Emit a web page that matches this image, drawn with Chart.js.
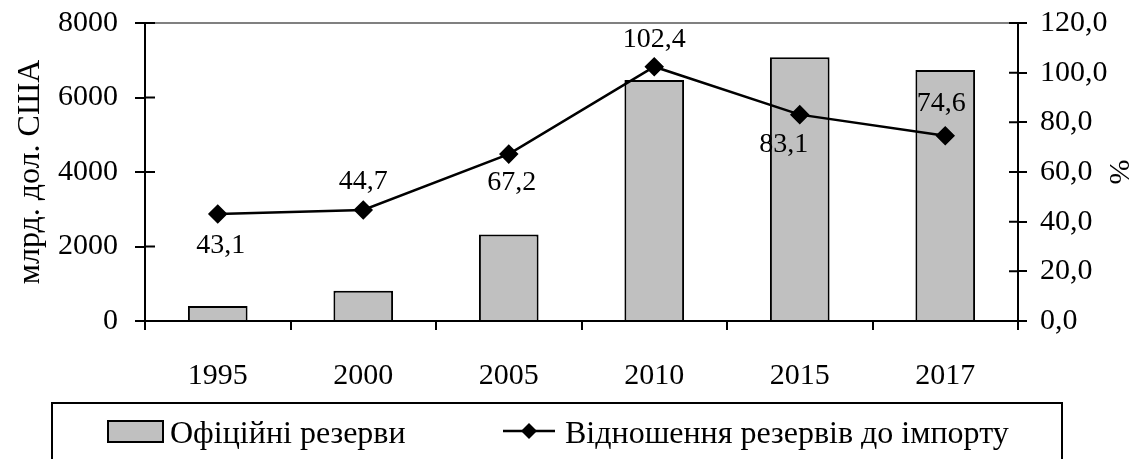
<!DOCTYPE html>
<html>
<head>
<meta charset="utf-8">
<script src="https://cdn.jsdelivr.net/npm/chart.js@4.4.0/dist/chart.umd.min.js"></script>
<style>
  html, body { margin: 0; padding: 0; background: #fff; }
  #wrap { width: 1141px; height: 459px; position: relative; }
</style>
</head>
<body>
<div id="wrap"><canvas id="grafico"></canvas></div>
<script>
const roky = ['1995', '2000', '2005', '2010', '2015', '2017'];
const rezervy = [400, 810, 2320, 6470, 7080, 6740];
const vidnoshennya = [43.1, 44.7, 67.2, 102.4, 83.1, 74.6];
const tickyLivi = [0, 2000, 4000, 6000, 8000];
const tickyPravi = [0, 20, 40, 60, 80, 100, 120];

// зсув підписів відносно точок (стиль, не дані)
const zsuvPidpysiv = [
  { dx: 3, dy: 32 }, { dx: 0, dy: -28 }, { dx: 3, dy: 29 },
  { dx: 0, dy: -27 }, { dx: -16, dy: 30 }, { dx: -4, dy: -32 }
];

const shryft = 'Liberation Serif, Times New Roman, serif';
const koma = v => v.toFixed(1).replace('.', ',');

const dodatky = {
  id: 'dodatky',
  beforeDatasetsDraw(chart) {
    const { ctx, chartArea } = chart;
    ctx.save();
    // сіра лінія зверху
    ctx.strokeStyle = '#808080';
    ctx.lineWidth = 2;
    ctx.beginPath();
    ctx.moveTo(chartArea.left, chartArea.top);
    ctx.lineTo(chartArea.right, chartArea.top);
    ctx.stroke();
    ctx.restore();
  },
  afterDatasetsDraw(chart) {
    const { ctx, chartArea, scales } = chart;
    ctx.save();
    // внутрішні частини поділок
    ctx.strokeStyle = '#000';
    ctx.lineWidth = 2;
    ctx.beginPath();
    tickyLivi.forEach(t => {
      const y = scales.y.getPixelForValue(t);
      ctx.moveTo(chartArea.left, y);
      ctx.lineTo(chartArea.left + 10, y);
    });
    tickyPravi.forEach(t => {
      const y = scales.y1.getPixelForValue(t);
      ctx.moveTo(chartArea.right, y);
      ctx.lineTo(chartArea.right - 9, y);
    });
    ctx.stroke();

    // підписи значень
    const meta = chart.getDatasetMeta(1);
    ctx.fillStyle = '#000';
    ctx.font = '28px ' + shryft;
    ctx.textAlign = 'center';
    ctx.textBaseline = 'middle';
    meta.data.forEach((pt, i) => {
      const z = zsuvPidpysiv[i];
      ctx.fillText(koma(vidnoshennya[i]), pt.x + z.dx, pt.y + z.dy);
    });

    // легенда
    ctx.lineWidth = 2;
    ctx.strokeRect(52, 403, 1010, 80);
    ctx.fillStyle = '#c0c0c0';
    ctx.fillRect(108, 421, 55, 21);
    ctx.strokeRect(108, 421, 55, 21);
    ctx.beginPath();
    ctx.moveTo(503, 431);
    ctx.lineTo(555, 431);
    ctx.lineWidth = 2.5;
    ctx.stroke();
    ctx.fillStyle = '#000';
    ctx.beginPath();
    ctx.moveTo(529, 423);
    ctx.lineTo(537, 431);
    ctx.lineTo(529, 439);
    ctx.lineTo(521, 431);
    ctx.closePath();
    ctx.fill();
    ctx.font = '32px ' + shryft;
    ctx.textAlign = 'left';
    ctx.textBaseline = 'alphabetic';
    ctx.fillText('Офіційні резерви', 170, 443);
    ctx.fillText('Відношення резервів до імпорту', 565, 443);
    ctx.restore();
  }
};

new Chart(document.getElementById('grafico'), {
  data: {
    labels: roky,
    datasets: [
      {
        type: 'bar',
        label: 'Офіційні резерви',
        data: rezervy,
        backgroundColor: '#c0c0c0',
        borderColor: '#000',
        borderWidth: 2,
        categoryPercentage: 1,
        barPercentage: 0.41,
        yAxisID: 'y',
        order: 2
      },
      {
        type: 'line',
        label: 'Відношення резервів до імпорту',
        data: vidnoshennya,
        borderColor: '#000',
        borderWidth: 2.5,
        backgroundColor: '#000',
        pointStyle: 'rectRot',
        pointRadius: 8,
        pointHoverRadius: 8,
        tension: 0,
        yAxisID: 'y1',
        order: 1
      }
    ]
  },
  options: {
    responsive: true,
    maintainAspectRatio: false,
    animation: false,
    events: [],
    layout: { padding: { top: 23, bottom: 0, left: 0, right: 0 } },
    plugins: { legend: { display: false }, tooltip: { enabled: false } },
    scales: {
      x: {
        offset: true,
        grid: { offset: true, drawOnChartArea: false, color: '#000', lineWidth: 2, tickLength: 9 },
        border: { color: '#000', width: 2 },
        ticks: { color: '#000', font: { family: shryft, size: 30 }, padding: 28, maxRotation: 0 },
        afterFit(s) { s.height = 138; s.paddingLeft = 0; s.paddingRight = 0; }
      },
      y: {
        position: 'left',
        min: 0, max: 8000,
        afterBuildTicks(s) { s.ticks = tickyLivi.map(v => ({ value: v })); },
        grid: { drawOnChartArea: false, color: '#000', lineWidth: 2, tickLength: 10 },
        border: { color: '#000', width: 2 },
        ticks: { color: '#000', font: { family: shryft, size: 30 }, padding: 17, callback: v => String(v) },
        title: { display: true, text: 'млрд. дол. США', color: '#000', font: { family: shryft, size: 32 }, padding: { top: 11, bottom: 0 } },
        afterFit(s) { s.width = 145; s.paddingTop = 0; s.paddingBottom = 0; }
      },
      y1: {
        position: 'right',
        min: 0, max: 120,
        afterBuildTicks(s) { s.ticks = tickyPravi.map(v => ({ value: v })); },
        grid: { drawOnChartArea: false, color: '#000', lineWidth: 2, tickLength: 9 },
        border: { color: '#000', width: 2 },
        ticks: { color: '#000', font: { family: shryft, size: 30 }, padding: 13, callback: v => koma(v) },
        title: { display: true, text: '%', color: '#000', font: { family: shryft, size: 30 }, padding: { top: 5, bottom: 0 } },
        afterFit(s) { s.width = 123; s.paddingTop = 0; s.paddingBottom = 0; }
      }
    }
  },
  plugins: [dodatky]
});
</script>
</body>
</html>
